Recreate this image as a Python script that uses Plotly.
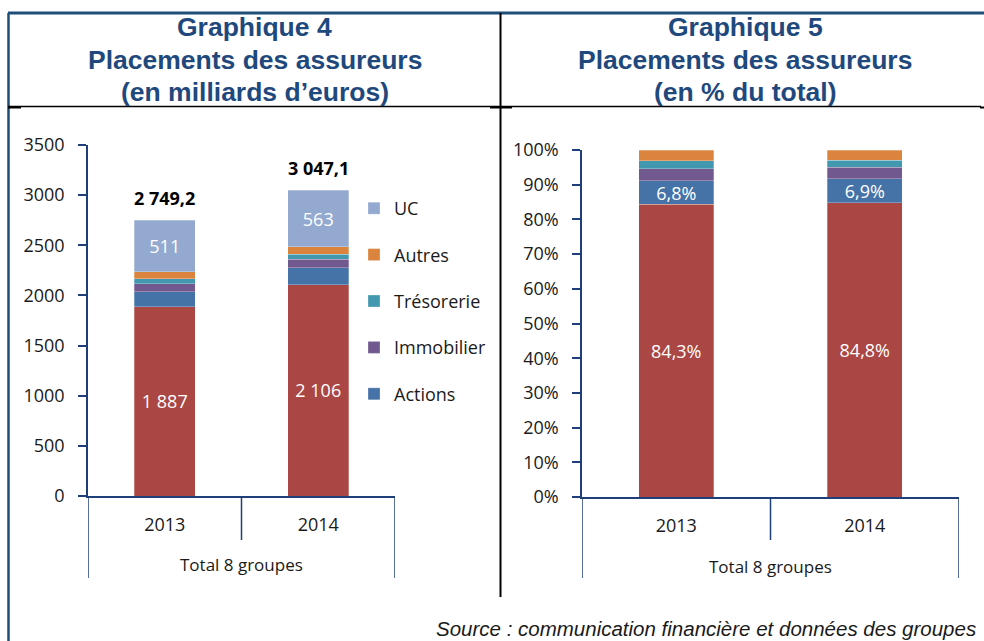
import plotly.graph_objects as go

W, H = 984, 641

def px(x):
    return x / W

def py(y):
    return 1 - y / H

# ---------------- data ----------------
years = ["2013", "2014"]
group_label = "Total 8 groupes"
obligations = [1887, 2106]
actions = [152, 171]
immobilier = [78, 82]
tresorerie = [51, 50]
autres = [70.2, 75.1]
uc = [511, 563]
totals = [2749.2, 3047.1]

series_names = ["Obligations", "Actions", "Immobilier", "Trésorerie", "Autres", "UC"]
series_values = [obligations, actions, immobilier, tresorerie, autres, uc]
series_colors = ["#AA4643", "#4572A7", "#71588F", "#4198AF", "#DB843D", "#93A9CF"]
legend_rank = [6, 5, 4, 3, 2, 1]

left_ticks = [0, 500, 1000, 1500, 2000, 2500, 3000, 3500]

title_left = ["Graphique 4", "Placements des assureurs", "(en milliards d\u2019euros)"]
title_right = ["Graphique 5", "Placements des assureurs", "(en % du total)"]
source_text = "Source : communication financière et données des groupes"

FONT = "Open Sans"
NAVY = "#1F3F7A"
TITLE_BLUE = "#1F497D"


def fmt_int(v):
    return f"{v:,.0f}".replace(",", " ")


def fmt_dec(v):
    return f"{v:,.1f}".replace(",", " ").replace(".", ",")


def fmt_pct(p):
    return f"{p * 100:.1f}%".replace(".", ",")


fig = go.Figure()

# ---------------- left chart (billions) ----------------
for name, vals, col, rk in zip(series_names, series_values, series_colors, legend_rank):
    show_text = name in ("Obligations", "UC")
    fig.add_trace(go.Bar(
        x=years, y=vals, name=name,
        marker=dict(color=col, line=dict(color="rgba(255,255,255,0.35)", width=0.8)),
        width=0.4,
        text=[fmt_int(v) for v in vals] if show_text else None,
        textposition="inside" if show_text else "none",
        insidetextanchor="middle",
        constraintext="none",
        textfont=dict(color="white", size=18, family=FONT),
        showlegend=(name != "Obligations"),
        legendgroup=name,
        legendrank=rk,
        xaxis="x", yaxis="y",
        hoverinfo="skip",
    ))

# ---------------- right chart (% of total excluding UC) ----------------
non_uc_totals = [sum(v[i] for v in series_values[:-1]) for i in range(len(years))]
for name, vals, col, rk in zip(series_names[:-1], series_values[:-1], series_colors[:-1], legend_rank[:-1]):
    shares = [vals[i] / non_uc_totals[i] for i in range(len(years))]
    show_text = name in ("Obligations", "Actions")
    fig.add_trace(go.Bar(
        x=years, y=shares, name=name,
        marker=dict(color=col, line=dict(color="rgba(255,255,255,0.35)", width=0.8)),
        width=0.4,
        text=[fmt_pct(s) for s in shares] if show_text else None,
        textposition="inside" if show_text else "none",
        insidetextanchor="middle",
        constraintext="none",
        textfont=dict(color="white", size=18, family=FONT),
        showlegend=False,
        legendgroup=name,
        legendrank=rk,
        xaxis="x2", yaxis="y2",
        hoverinfo="skip",
    ))

axis_common = dict(
    showgrid=False, zeroline=False, showline=True, linecolor=NAVY, linewidth=1.5,
    tickfont=dict(family=FONT, size=18, color="#1a1a1a"), automargin=False,
)

fig.update_layout(
    width=W, height=H,
    margin=dict(l=0, r=0, t=0, b=0, autoexpand=False),
    paper_bgcolor="white", plot_bgcolor="white",
    barmode="stack",
    font=dict(family=FONT, color="#1a1a1a"),
    uniformtext=dict(mode=False),
    xaxis=dict(domain=[px(88), px(395)], type="category", range=[-0.5, 1.5],
               anchor="y", ticks="", ticklabelstandoff=12, **axis_common),
    yaxis=dict(domain=[py(496), py(145)], range=[0, 3500], tickvals=left_ticks,
               anchor="x", ticks="outside", ticklen=8, tickcolor=NAVY, tickwidth=1.5,
               ticklabelstandoff=10, **axis_common),
    xaxis2=dict(domain=[px(582), px(959)], type="category", range=[-0.5, 1.5],
                anchor="y2", ticks="", ticklabelstandoff=12, **axis_common),
    yaxis2=dict(domain=[py(497), py(150)], range=[0, 1], dtick=0.1, tickformat=".0%",
                anchor="x2", ticks="outside", ticklen=8, tickcolor=NAVY, tickwidth=1.5,
                ticklabelstandoff=10, **axis_common),
    legend=dict(x=px(354), y=py(190), xanchor="left", yanchor="top",
                traceorder="grouped", tracegroupgap=20,
                font=dict(family=FONT, size=18, color="#1a1a1a"),
                bgcolor="rgba(0,0,0,0)", itemclick=False, itemdoubleclick=False),
)

shapes = []
# category dividers (Excel-style multi-level axis)
for xa in ("x", "x2"):
    ybot = 496 if xa == "x" else 497
    for xv, yend in ((-0.5, 578), (0.5, 540), (1.5, 578)):
        shapes.append(dict(type="line", xref=xa, yref="paper", x0=xv, x1=xv,
                           y0=py(ybot), y1=py(yend), line=dict(color=NAVY, width=1.5)))

# frame of the table
shapes += [
    dict(type="line", xref="paper", yref="paper", x0=px(8), x1=1, y0=py(13), y1=py(13),
         line=dict(color="#1F4E79", width=3)),
    dict(type="line", xref="paper", yref="paper", x0=px(8.5), x1=px(8.5), y0=py(13), y1=0,
         line=dict(color="#1F4E79", width=2.5)),
    dict(type="line", xref="paper", yref="paper", x0=px(8), x1=px(981), y0=py(106.5), y1=py(106.5),
         line=dict(color="black", width=1.5)),
    dict(type="line", xref="paper", yref="paper", x0=px(500.5), x1=px(500.5), y0=py(13), y1=py(597),
         line=dict(color="black", width=2)),
    dict(type="line", xref="paper", yref="paper", x0=px(8), x1=px(21), y0=py(107.5), y1=py(107.5),
         line=dict(color="black", width=2)),
    dict(type="line", xref="paper", yref="paper", x0=px(490), x1=px(512), y0=py(107.5), y1=py(107.5),
         line=dict(color="black", width=2)),
    dict(type="line", xref="paper", yref="paper", x0=px(980), x1=1, y0=py(107.5), y1=py(107.5),
         line=dict(color="black", width=2)),
]
fig.update_layout(shapes=shapes)

annotations = []
for lines, cx in ((title_left, 254.5), (title_right, 745)):
    for line, cy in zip(lines, (27, 60, 92)):
        annotations.append(dict(text="<b>" + line + "</b>", xref="paper", yref="paper",
                                x=px(cx), y=py(cy), xanchor="center", yanchor="middle",
                                showarrow=False,
                                font=dict(family="Liberation Sans", size=26.5, color=TITLE_BLUE)))
annotations += [
    dict(text=group_label, xref="paper", yref="paper", x=px(241.5), y=py(564),
         xanchor="center", yanchor="middle", showarrow=False,
         font=dict(family=FONT, size=17, color="#1a1a1a")),
    dict(text=group_label, xref="paper", yref="paper", x=px(770.5), y=py(566),
         xanchor="center", yanchor="middle", showarrow=False,
         font=dict(family=FONT, size=17, color="#1a1a1a")),
    dict(text="<i>" + source_text + "</i>", xref="paper", yref="paper", x=px(978), y=py(628),
         xanchor="right", yanchor="middle", showarrow=False,
         font=dict(family="Liberation Sans", size=20.5, color="#1a1a1a")),
]
for i, tot in enumerate(totals):
    annotations.append(dict(text="<b>" + fmt_dec(tot) + "</b>", xref="x", yref="y",
                            x=i, y=tot, xanchor="center", yanchor="bottom", yshift=8,
                            showarrow=False, font=dict(family=FONT, size=18, color="black")))
fig.update_layout(annotations=annotations)

fig.write_html("out.html",
               config={"displayModeBar": False},
               post_script="document.body.style.margin='0px';document.body.style.overflow='hidden';")
